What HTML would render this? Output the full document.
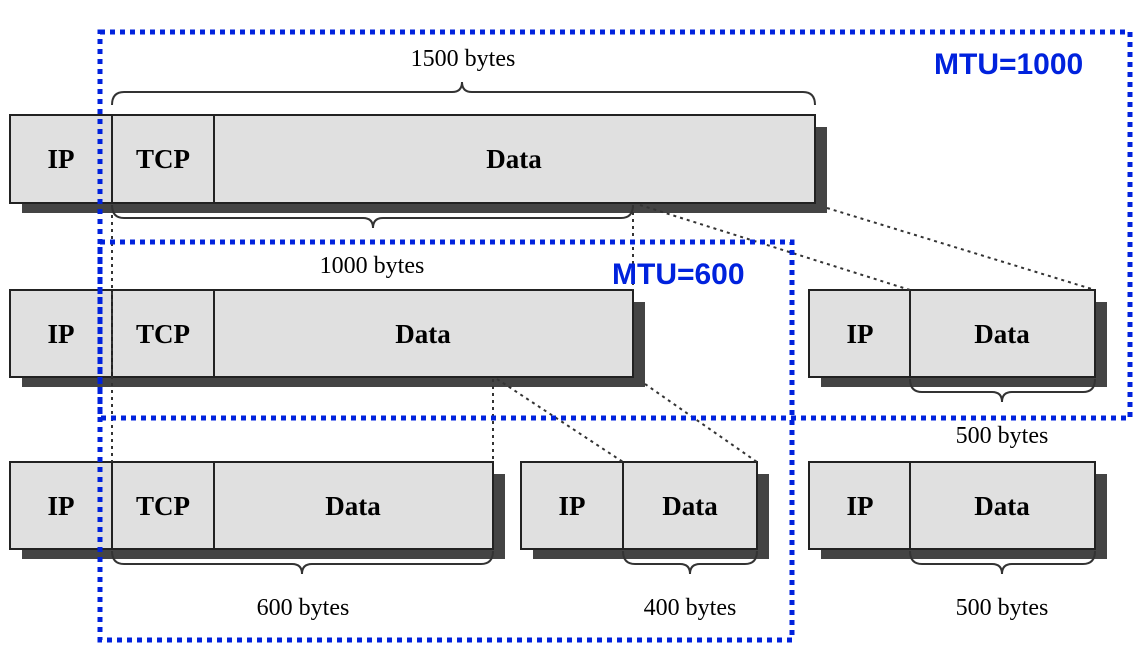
<!DOCTYPE html>
<html><head><meta charset="utf-8"><style>body{margin:0;background:#fff}svg{display:block}</style></head><body>
<svg width="1148" height="664" viewBox="0 0 1148 664" xmlns="http://www.w3.org/2000/svg">
<defs><style>
.b{fill:#e0e0e0;stroke:#222;stroke-width:2}
.s{fill:#444}
.t{font-family:"Liberation Serif",serif;font-weight:bold;font-size:27px;text-anchor:middle}
.l{font-family:"Liberation Serif",serif;font-size:24px;text-anchor:middle}
.br{fill:none;stroke:#333;stroke-width:2}
.d{stroke:#333;stroke-width:2;stroke-dasharray:3,4;fill:none}
.m{fill:none;stroke:#0022dd;stroke-width:5;stroke-dasharray:5,5}
.mt{font-family:"Liberation Sans",sans-serif;font-weight:bold;font-size:30px;fill:#0022dd}
</style></defs>
<!-- shadows -->
<rect class="s" x="22" y="203" width="805" height="10"/><rect class="s" x="815" y="127" width="12" height="86"/>
<rect class="s" x="22" y="377" width="623" height="10"/><rect class="s" x="633" y="302" width="12" height="85"/>
<rect class="s" x="22" y="549" width="483" height="10"/><rect class="s" x="493" y="474" width="12" height="85"/>
<rect class="s" x="533" y="549" width="236" height="10"/><rect class="s" x="757" y="474" width="12" height="85"/>
<rect class="s" x="821" y="377" width="286" height="10"/><rect class="s" x="1095" y="302" width="12" height="85"/>
<rect class="s" x="821" y="549" width="286" height="10"/><rect class="s" x="1095" y="474" width="12" height="85"/>
<!-- row1 -->
<rect class="b" x="10" y="115" width="805" height="88"/><line x1="112" y1="115" x2="112" y2="203" stroke="#222" stroke-width="2"/><line x1="214" y1="115" x2="214" y2="203" stroke="#222" stroke-width="2"/>
<text class="t" x="61" y="168">IP</text><text class="t" x="163" y="168">TCP</text><text class="t" x="514" y="168">Data</text>
<!-- row2 -->
<rect class="b" x="10" y="290" width="623" height="87"/><line x1="112" y1="290" x2="112" y2="377" stroke="#222" stroke-width="2"/><line x1="214" y1="290" x2="214" y2="377" stroke="#222" stroke-width="2"/>
<text class="t" x="61" y="343">IP</text><text class="t" x="163" y="343">TCP</text><text class="t" x="423" y="343">Data</text>
<rect class="b" x="809" y="290" width="286" height="87"/><line x1="910" y1="290" x2="910" y2="377" stroke="#222" stroke-width="2"/>
<text class="t" x="860" y="343">IP</text><text class="t" x="1002" y="343">Data</text>
<!-- row3 -->
<rect class="b" x="10" y="462" width="483" height="87"/><line x1="112" y1="462" x2="112" y2="549" stroke="#222" stroke-width="2"/><line x1="214" y1="462" x2="214" y2="549" stroke="#222" stroke-width="2"/>
<text class="t" x="61" y="515">IP</text><text class="t" x="163" y="515">TCP</text><text class="t" x="353" y="515">Data</text>
<rect class="b" x="521" y="462" width="236" height="87"/><line x1="623" y1="462" x2="623" y2="549" stroke="#222" stroke-width="2"/>
<text class="t" x="572" y="515">IP</text><text class="t" x="690" y="515">Data</text>
<rect class="b" x="809" y="462" width="286" height="87"/><line x1="910" y1="462" x2="910" y2="549" stroke="#222" stroke-width="2"/>
<text class="t" x="860" y="515">IP</text><text class="t" x="1002" y="515">Data</text>
<!-- braces -->
<path class="br" d="M112,105 Q112,92 124,92 L452,92 Q462,92 462,82 Q462,92 472,92 L803,92 Q815,92 815,105"/>
<path class="br" d="M112,205 Q112,218 124,218 L363,218 Q373,218 373,228 Q373,218 383,218 L621,218 Q633,218 633,205"/>
<path class="br" d="M910,379 Q910,392 922,392 L992,392 Q1002,392 1002,402 Q1002,392 1012,392 L1083,392 Q1095,392 1095,379"/>
<path class="br" d="M112,551 Q112,564 124,564 L292,564 Q302,564 302,574 Q302,564 312,564 L481,564 Q493,564 493,551"/>
<path class="br" d="M623,551 Q623,564 635,564 L680,564 Q690,564 690,574 Q690,564 700,564 L745,564 Q757,564 757,551"/>
<path class="br" d="M910,551 Q910,564 922,564 L992,564 Q1002,564 1002,574 Q1002,564 1012,564 L1083,564 Q1095,564 1095,551"/>
<text class="l" x="463" y="66">1500 bytes</text>
<text class="l" x="372" y="273">1000 bytes</text>
<text class="l" x="1002" y="443">500 bytes</text>
<text class="l" x="303" y="615">600 bytes</text>
<text class="l" x="690" y="615">400 bytes</text>
<text class="l" x="1002" y="615">500 bytes</text>
<!-- dotted connectors -->
<line class="d" x1="112" y1="215" x2="112" y2="462"/>
<line class="d" x1="633" y1="205" x2="633" y2="290"/>
<line class="d" x1="640" y1="205" x2="910" y2="290"/>
<line class="d" x1="827" y1="208" x2="1095" y2="290"/>
<line class="d" x1="493" y1="379" x2="493" y2="462"/>
<line class="d" x1="497" y1="379" x2="623" y2="462"/>
<line class="d" x1="645" y1="384" x2="757" y2="462"/>
<!-- MTU boxes -->
<rect class="m" x="100" y="32" width="1030" height="386"/>
<rect class="m" x="100" y="242" width="692" height="398"/>
<text class="mt" x="934" y="74">MTU=1000</text>
<text class="mt" x="612" y="284">MTU=600</text>
</svg>
</body></html>
